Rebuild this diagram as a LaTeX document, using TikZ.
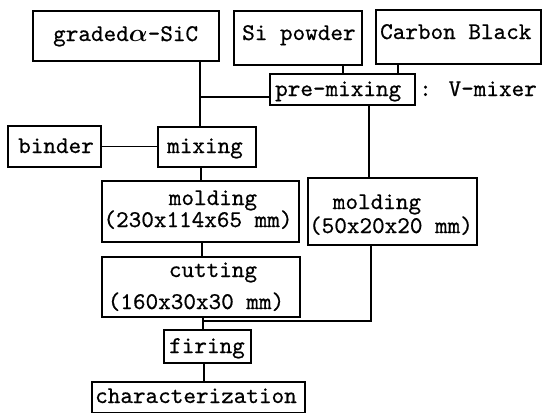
\documentclass[tikz,border=0pt]{standalone}
\usepackage{fontspec}
\usepackage{amsmath}
\newfontfamily\twfont{lmmono10-regular.otf}[FakeBold=0.6]
\tikzset{
  box/.style={draw, line width=2pt, inner sep=0pt, anchor=north west},
  txt/.style={font=\twfont\fontsize{24}{26}\selectfont, inner sep=0pt},
  conn/.style={line width=1.6pt},
}
\begin{document}
\begin{tikzpicture}[x=1pt,y=-1pt]
\useasboundingbox (0,0) rectangle (542,413);
% boxes
\node[box, minimum width=186pt, minimum height=50pt] (sic) at (32,10) {};
\node[box, minimum width=128pt, minimum height=54pt] (si) at (233,10) {};
\node[box, minimum width=165pt, minimum height=54pt] (cb) at (375,9) {};
\node[box, minimum width=145pt, minimum height=31pt] (pre) at (269,73) {};
\node[box, minimum width=93pt, minimum height=41pt] (binder) at (7,125) {};
\node[box, minimum width=98pt, minimum height=40pt] (mixing) at (157,126) {};
\node[box, minimum width=197pt, minimum height=61pt] (mold1) at (101,180) {};
\node[box, minimum width=169pt, minimum height=67pt] (mold2) at (307,177) {};
\node[box, minimum width=198pt, minimum height=60pt] (cut) at (101,256) {};
\node[box, minimum width=87pt, minimum height=33pt] (firing) at (163,329) {};
\node[box, minimum width=213pt, minimum height=31pt] (char) at (91,381) {};
% texts
\node[txt, anchor=base west] (sict) at (53,41) {graded$\boldsymbol{\alpha}$-SiC};
\node[txt, anchor=base west] (sit) at (242,40) {Si powder};
\node[txt, anchor=base west] (cbt) at (380,39) {Carbon Black};
\node[txt, anchor=base west] (pret) at (275,96) {pre-mixing};
\node[txt, anchor=base west] (vmix) at (419,96) {: V-mixer};
\node[txt, anchor=base west] (bint) at (18,153) {binder};
\node[txt, anchor=base west] (mixt) at (167,153) {mixing};
\node[txt, anchor=base] (m1a) at (213,205) {molding};
\node[txt, anchor=base] (m1b) at (198,227) {(230x114x65 mm)};
\node[txt, anchor=base] (m2a) at (377,209) {molding};
\node[txt, anchor=base] (m2b) at (391,233) {(50x20x20 mm)};
\node[txt, anchor=base] (cuta) at (213,277) {cutting};
\node[txt, anchor=base] (cutb) at (196,309) {(160x30x30 mm)};
\node[txt, anchor=base] (firt) at (207,353) {firing};
\node[txt, anchor=base] (chart) at (196,403) {characterization};
% connector coordinates
\coordinate (j1) at (200,97);
\coordinate (xs) at (343,0);
\coordinate (xc) at (398,0);
\coordinate (xp) at (369,0);
\coordinate (xm) at (201,0);
\coordinate (xo) at (202,0);
\coordinate (xf) at (203,0);
\coordinate (xh) at (204,0);
\coordinate (j2) at (371,321);
% connectors
\draw[conn] (sic.south -| j1) -- (mixing.north -| j1);
\draw[conn] (j1) -- (pre.west |- j1);
\draw[conn] (si.south -| xs) -- (pre.north -| xs);
\draw[conn] (cb.south -| xc) -- (pre.north -| xc);
\draw[conn] (pre.south -| xp) -- (mold2.north -| xp);
\draw[conn] (binder.east) -- (mixing.west |- binder.east);
\draw[conn] (mixing.south -| xm) -- (mold1.north -| xm);
\draw[conn] (mold1.south -| xo) -- (cut.north -| xo);
\draw[conn] (mold2.south -| j2) -- (j2) -- (j2 -| xf);
\draw[conn] (cut.south -| xf) -- (firing.north -| xf);
\draw[conn] (firing.south -| xh) -- (char.north -| xh);
\end{tikzpicture}
\end{document}
